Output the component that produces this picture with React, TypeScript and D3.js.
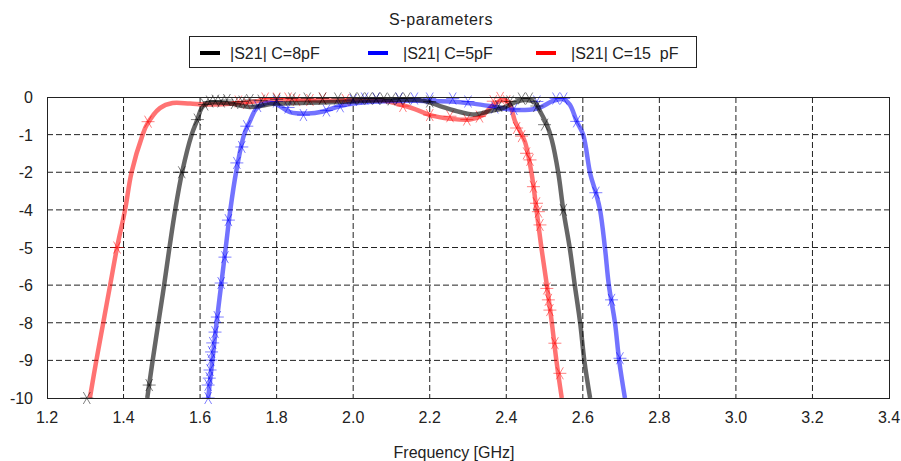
import * as d3 from "d3";

type Pt = [number, number];

const freqTicks = [1.2, 1.4, 1.6, 1.8, 2.0, 2.2, 2.4, 2.6, 2.8, 3.0, 3.2, 3.4];
const dbTicks = [0, -1.25, -2.5, -3.75, -5, -6.25, -7.5, -8.75, -10];
const dbTickLabels = ["0", "-1", "-2", "-4", "-5", "-6", "-8", "-9", "-10"];

const seriesNames = ["|S21| C=8pF", "|S21| C=5pF", "|S21| C=15  pF"];
const seriesColors = ["#000000", "#0000ff", "#ff0000"];

// smooth curves (GHz, dB)
const curve8pF: Pt[] = [
  [1.462, -10], [1.476, -8.76], [1.491, -7.5], [1.506, -6.25],
  [1.52, -5.0], [1.535, -3.75], [1.553, -2.5], [1.578, -1.25], [1.593, -0.75],
  [1.604, -0.37], [1.618, -0.2], [1.67, -0.2], [1.73, -0.33], [1.796, -0.22],
  [1.861, -0.2], [1.992, -0.15], [2.096, -0.1], [2.182, -0.12], [2.227, -0.3],
  [2.279, -0.5], [2.313, -0.58], [2.357, -0.47], [2.391, -0.37], [2.428, -0.15],
  [2.454, -0.1], [2.475, -0.18], [2.488, -0.47], [2.506, -0.92], [2.519, -1.43],
  [2.536, -2.53], [2.549, -3.75], [2.566, -5.03], [2.579, -6.25], [2.593, -7.5],
  [2.604, -8.76], [2.619, -10],
];

const curve5pF: Pt[] = [
  [1.621, -10], [1.632, -8.76], [1.643, -7.5], [1.655, -6.25], [1.667, -5.0],
  [1.679, -3.75], [1.694, -2.5], [1.715, -1.25], [1.73, -0.81], [1.748, -0.37],
  [1.774, -0.2], [1.796, -0.22], [1.835, -0.5], [1.882, -0.55], [1.921, -0.48],
  [1.966, -0.3], [2.01, -0.2], [2.096, -0.13], [2.182, -0.13], [2.253, -0.15],
  [2.313, -0.22], [2.357, -0.3], [2.402, -0.4], [2.449, -0.43], [2.488, -0.35],
  [2.522, -0.13], [2.548, -0.07], [2.566, -0.25], [2.584, -0.81], [2.601, -1.25],
  [2.619, -2.53], [2.634, -3.18], [2.645, -3.75], [2.658, -5.03], [2.668, -6.25],
  [2.684, -7.5], [2.695, -8.76], [2.71, -10],
];

const curve15pF: Pt[] = [
  [1.312, -10], [1.329, -8.75], [1.347, -7.5], [1.365, -6.25], [1.383, -5.0],
  [1.404, -3.75], [1.421, -2.5], [1.45, -1.25], [1.461, -0.92], [1.495, -0.37],
  [1.528, -0.2], [1.574, -0.22], [1.618, -0.25], [1.704, -0.2], [1.79, -0.09],
  [1.861, -0.09], [1.939, -0.12], [2.018, -0.1], [2.078, -0.12], [2.122, -0.25],
  [2.161, -0.4], [2.201, -0.6], [2.253, -0.72], [2.305, -0.75], [2.339, -0.6],
  [2.363, -0.3], [2.391, -0.1], [2.407, -0.2], [2.423, -0.81], [2.436, -1.14],
  [2.449, -1.5], [2.466, -2.53], [2.479, -3.75], [2.492, -5.03], [2.506, -6.25],
  [2.519, -7.5], [2.531, -8.76], [2.545, -10],
];

// sampled points drawn as asterisks
const marks8pF: Pt[] = [
  [1.304, -10], [1.467, -9.57], [1.552, -2.5], [1.593, -0.75], [1.612, -0.25],
  [1.625, -0.15], [1.64, -0.12], [1.655, -0.15], [1.67, -0.1], [1.69, -0.2],
  [1.71, -0.15], [1.73, -0.1], [1.76, -0.12], [1.8, -0.08], [1.84, -0.05],
  [1.88, -0.05], [1.92, -0.05], [1.96, -0.05], [2.0, -0.05], [2.02, -0.05],
  [2.04, -0.05], [2.06, -0.05], [2.08, -0.05], [2.1, -0.08], [2.12, -0.05],
  [2.14, -0.05], [2.2, -0.15], [2.38, -0.3], [2.41, -0.15], [2.44, -0.05],
  [2.46, -0.05], [2.48, -0.3], [2.5, -0.92], [2.549, -3.75],
];

const marks5pF: Pt[] = [
  [1.621, -10], [1.621, -9.57], [1.624, -9.34], [1.626, -9.07], [1.628, -8.74],
  [1.63, -8.47], [1.633, -8.17], [1.639, -7.81], [1.645, -7.31], [1.655, -6.18],
  [1.665, -5.32], [1.674, -4.09], [1.696, -2.19], [1.709, -1.66], [1.722, -0.97],
  [1.75, -0.3], [1.8, -0.15], [1.83, -0.35], [1.87, -0.6], [1.93, -0.45],
  [1.966, -0.31], [2.0, -0.1], [2.03, -0.05], [2.06, -0.05], [2.12, -0.05],
  [2.16, -0.05], [2.2, -0.05], [2.26, -0.05], [2.3, -0.15], [2.37, -0.35],
  [2.42, -0.4], [2.48, -0.15], [2.53, -0.05], [2.55, -0.05], [2.584, -0.81],
  [2.634, -3.18], [2.675, -6.74], [2.697, -8.68],
];

const marks15pF: Pt[] = [
  [1.383, -5.0], [1.464, -0.82], [1.7, -0.15], [1.722, -0.2], [1.77, -0.05],
  [1.8, -0.05], [1.83, -0.05], [1.852, -0.1], [1.887, -0.1], [1.92, -0.05],
  [1.98, -0.1], [2.13, -0.3], [2.2, -0.6], [2.253, -0.64], [2.297, -0.75],
  [2.33, -0.65], [2.366, -0.14], [2.384, -0.03], [2.401, -0.14], [2.427, -1.03],
  [2.44, -1.3], [2.453, -1.87], [2.462, -2.09], [2.471, -2.98], [2.479, -3.53],
  [2.484, -3.81], [2.488, -4.25], [2.506, -6.36], [2.51, -6.74], [2.514, -7.08],
  [2.527, -8.18], [2.54, -9.18],
];

const curves = [curve8pF, curve5pF, curve15pF];
const marks = [marks8pF, marks5pF, marks15pF];
const drawOrder = [2, 1, 0];

const W = 901;
const H = 461;
const plot = { left: 47, right: 889, top: 97, bottom: 398 };
const font = "'Liberation Sans', Arial, sans-serif";

const star = "M-6.5,0L6.5,0M-3.5,-6L3.5,6M3.5,-6L-3.5,6";

export default function App() {
  const x = d3.scaleLinear().domain([1.2, 3.4]).range([plot.left, plot.right]);
  const y = d3.scaleLinear().domain([-10, 0]).range([plot.bottom, plot.top]);
  const line = d3
    .line<Pt>()
    .x((d) => x(d[0]))
    .y((d) => y(d[1]))
    .curve(d3.curveCatmullRom.alpha(0.5));

  const legendItems = [
    { lx: 200, tx: 230 },
    { lx: 368, tx: 403 },
    { lx: 536, tx: 571 },
  ];

  return (
    <svg
      width={W}
      height={H}
      style={{ position: "absolute", left: 0, top: 0, background: "#fff" }}
      fontFamily={font}
      fontSize={16}
    >
      <text x={441} y={25} textAnchor="middle" fill="#222" letterSpacing={0.6}>
        S-parameters
      </text>

      <rect x={189.5} y={36.5} width={507} height={31} fill="#fff" stroke="#222" />
      {legendItems.map((it, i) => (
        <g key={i}>
          <line x1={it.lx} x2={it.lx + 20} y1={53} y2={53} stroke={seriesColors[i]} strokeWidth={4} />
          <text x={it.tx} y={59} fill="#222" style={{ whiteSpace: "pre" }}>
            {seriesNames[i]}
          </text>
        </g>
      ))}

      {freqTicks.slice(1, -1).map((f) => (
        <line
          key={`vx${f}`}
          x1={x(f)}
          x2={x(f)}
          y1={plot.top}
          y2={plot.bottom}
          stroke="#222"
          strokeDasharray="6,3"
        />
      ))}
      {dbTicks.slice(1, -1).map((v) => (
        <line
          key={`hy${v}`}
          x1={plot.left}
          x2={plot.right}
          y1={y(v)}
          y2={y(v)}
          stroke="#222"
          strokeDasharray="6,3"
        />
      ))}

      {drawOrder.map((i) => (
        <g key={`s${i}`}>
          <path
            d={line(curves[i]) || ""}
            fill="none"
            stroke={seriesColors[i]}
            strokeOpacity={i === 0 ? 0.6 : 0.55}
            strokeWidth={4.5}
            strokeLinejoin="round"
          />
          {marks[i].map((p, k) => (
            <path
              key={k}
              d={star}
              transform={`translate(${x(p[0])},${y(p[1])})`}
              fill="none"
              stroke={seriesColors[i]}
              strokeOpacity={0.5}
              strokeWidth={1}
            />
          ))}
        </g>
      ))}

      <rect
        x={plot.left + 0.5}
        y={plot.top + 0.5}
        width={plot.right - plot.left}
        height={plot.bottom - plot.top}
        fill="none"
        stroke="#222"
      />

      {freqTicks.map((f) => (
        <text key={`xl${f}`} x={x(f)} y={423} textAnchor="middle" fill="#222">
          {f.toFixed(1)}
        </text>
      ))}
      {dbTicks.map((v, i) => (
        <text key={`yl${v}`} x={33} y={y(v) + 6} textAnchor="end" fill="#222">
          {dbTickLabels[i]}
        </text>
      ))}

      <text x={454} y={458} textAnchor="middle" fill="#222">
        Frequency [GHz]
      </text>
    </svg>
  );
}
